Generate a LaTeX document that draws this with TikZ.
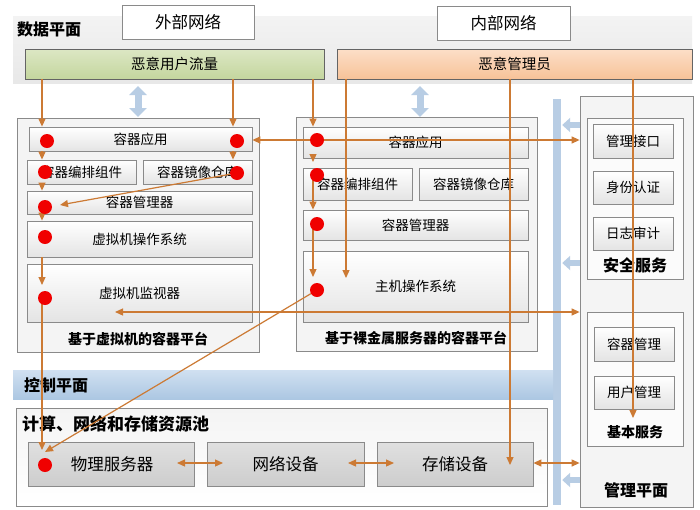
\documentclass[tikz,border=0pt]{standalone}
\usepackage{fontspec}
\setmainfont{Noto Sans CJK SC}
\usetikzlibrary{arrows.meta}

\definecolor{edge}{RGB}{138,138,138}
\definecolor{darkedge}{RGB}{100,100,100}
\definecolor{flowc}{RGB}{204,122,52}
\definecolor{dotred}{RGB}{240,0,0}
\definecolor{ice}{RGB}{184,205,228}
\definecolor{iceTop}{RGB}{208,224,241}
\definecolor{iceBot}{RGB}{172,199,226}
\definecolor{bandTop}{RGB}{243,243,243}
\definecolor{bandBot}{RGB}{232,232,232}
\definecolor{cellBot}{RGB}{228,228,228}
\definecolor{frameFill}{RGB}{244,244,244}
\definecolor{resTop}{RGB}{224,224,224}
\definecolor{resBot}{RGB}{205,205,205}
\definecolor{userTop}{RGB}{220,231,196}
\definecolor{userBot}{RGB}{196,214,158}
\definecolor{adminTop}{RGB}{252,223,200}
\definecolor{adminBot}{RGB}{247,194,152}

\newcommand\fsz[1]{\fontsize{#1}{#1}\selectfont}
% rectangle node from its corner coordinates: name, x1, y1, x2, y2, style, text
\newcommand\rbox[7]{\node[#6, minimum width={#4-#2}, minimum height={#5-#3}] (#1) at ({(#2+#4)/2},{(#3+#5)/2}) {#7};}

\pgfdeclarelayer{front}
\pgfsetlayers{main,front}

\begin{document}
\begin{tikzpicture}[x=1pt,y=-1pt,
  band/.style={draw=none, top color=bandTop, bottom color=bandBot, inner sep=0pt},
  netbox/.style={draw=edge, line width=0.8pt, fill=white, font=\fsz{16.5}, inner sep=0pt},
  cell/.style={draw=edge, line width=0.8pt, top color=white, bottom color=cellBot, font=\fsz{13.5}, inner sep=0pt},
  frame/.style={draw=edge, line width=0.8pt, fill=frameFill, inner sep=0pt},
  res/.style={draw=edge, line width=0.8pt, top color=resTop, bottom color=resBot, font=\fsz{16.5}, inner sep=0pt},
  actor/.style={draw=darkedge, line width=0.8pt, font=\fsz{14.5}, inner sep=0pt},
  title/.style={font=\bfseries\fsz{16}, inner sep=0pt},
  subtitle/.style={font=\bfseries\fsz{14}, inner sep=0pt},
  dot/.style={circle, fill=dotred, minimum size=14pt, inner sep=0pt},
  flow/.style={draw=flowc, line width=1.2pt, -{Triangle[length=8pt,width=7pt]}},
  flow2/.style={draw=flowc, line width=1.2pt, {Triangle[length=8pt,width=7pt]}-{Triangle[length=8pt,width=7pt]}},
  iceflow/.style={draw=ice, line width=6pt, -{Triangle[length=8pt,width=14pt]}},
  icepair/.style={draw=ice, line width=7pt, {Triangle[length=9pt,width=17pt]}-{Triangle[length=9pt,width=17pt]}}
]
\useasboundingbox (0,0) rectangle (700,509);
\fill[white] (0,0) rectangle (700,509);

% ---------- data plane ----------
\rbox{databand}{13}{16}{692}{83}{band}{}
\node[title, anchor=west] (dataT) at (17,29) {数据平面};
\rbox{ext}{122}{5}{254}{39}{netbox}{外部网络}
\rbox{int}{437}{6}{570}{40}{netbox}{内部网络}
\rbox{usr}{25}{49}{324}{79}{actor, top color=userTop, bottom color=userBot}{恶意用户流量}
\rbox{mal}{337}{49}{692}{79}{actor, top color=adminTop, bottom color=adminBot}{恶意管理员}

% ---------- control plane: bar and band ----------
\rbox{bar}{553}{99}{561}{505}{fill=ice, inner sep=0pt}{}
\rbox{ctrl}{13}{370}{553}{399}{top color=iceTop, bottom color=iceBot, inner sep=0pt}{}
\node[title, anchor=west] (ctrlT) at (24,385) {控制平面};

% ---------- VM based container platform ----------
\rbox{platL}{17}{118}{259}{352}{frame}{}
\node[subtitle] (platLT) at (138,339) {基于虚拟机的容器平台};
\rbox{appL}{29}{127}{252}{151}{cell}{容器应用}
\rbox{orchL}{27}{160}{136}{184}{cell}{容器编排组件}
\rbox{regL}{143}{160}{252}{184}{cell}{容器镜像仓库}
\rbox{mgrL}{27}{191}{252}{214}{cell}{容器管理器}
\rbox{vmosL}{27}{221}{252}{257}{cell}{虚拟机操作系统}
\rbox{hypL}{27}{264}{252}{322}{cell}{虚拟机监视器}

% ---------- bare metal container platform ----------
\rbox{platR}{296}{117}{537}{351}{frame}{}
\node[subtitle] (platRT) at (416,338) {基于裸金属服务器的容器平台};
\rbox{appR}{303}{127}{528}{158}{cell}{容器应用}
\rbox{orchR}{303}{168}{412}{200}{cell}{容器编排组件}
\rbox{regR}{419}{168}{528}{200}{cell}{容器镜像仓库}
\rbox{mgrR}{303}{210}{528}{240}{cell}{容器管理器}
\rbox{hostR}{303}{251}{528}{322}{cell}{主机操作系统}

% ---------- management plane ----------
\rbox{mgmt}{580}{96}{693}{507}{frame}{}
\node[title] (mgmtT) at (636,490) {管理平面};
\rbox{sec}{587}{118}{683}{279}{draw=edge, line width=0.8pt, fill=white!60!frameFill, inner sep=0pt}{}
\node[title] (secT) at (635,265) {安全服务};
\rbox{api}{593}{124}{673}{158}{cell}{管理接口}
\rbox{auth}{593}{171}{673}{204}{cell}{身份认证}
\rbox{audit}{593}{217}{673}{250}{cell}{日志审计}
\rbox{basic}{587}{312}{683}{446}{draw=edge, line width=0.8pt, fill=white!60!frameFill, inner sep=0pt}{}
\node[subtitle] (basicT) at (635,432) {基本服务};
\rbox{cmgr}{594}{327}{674}{361}{cell}{容器管理}
\rbox{umgr}{594}{376}{674}{409}{cell}{用户管理}

% ---------- resource pool ----------
\rbox{pool}{16}{408}{547}{506}{draw=edge, line width=0.8pt, top color=frameFill, bottom color=white, inner sep=0pt}{}
\node[font=\bfseries\fsz{17}, inner sep=0pt, anchor=west] (poolT) at (22,424) {计算、网络和存储资源池};
\rbox{phys}{28}{442}{194}{486}{res}{\hspace*{2pt}物理服务器}
\rbox{net}{207}{442}{364}{486}{res}{网络设备}
\rbox{stor}{377}{442}{533}{486}{res}{存储设备}

% ---------- attack points ----------
\begin{pgfonlayer}{front}
\node[dot] (dL1) at (47,141) {};
\node[dot] (dL2) at (237,141) {};
\node[dot] (dL3) at (45,172) {};
\node[dot] (dL4) at (237,173) {};
\node[dot] (dL5) at (45,207) {};
\node[dot] (dL6) at (45,237) {};
\node[dot] (dL7) at (45,298) {};
\node[dot] (dP) at (45,465) {};
\node[dot] (dR1) at (317,140) {};
\node[dot] (dR2) at (317,175) {};
\node[dot] (dR3) at (317,224) {};
\node[dot] (dR4) at (317,290) {};
\end{pgfonlayer}

% ---------- columns, rows and free ends ----------
\coordinate (xa) at (42,0);
\coordinate (xb) at (233,0);
\coordinate (xc) at (313,0);
\coordinate (xd) at (346,0);
\coordinate (xe) at (510,0);
\coordinate (xf) at (633,0);
\coordinate (ya) at (0,140);
\coordinate (yb) at (0,312);
\coordinate (yc) at (0,463);
\coordinate (hypIn) at (42,285);
\coordinate (physIn) at (42,450);
\coordinate (physIn2) at (45,452);
\coordinate (mgrLIn) at (60,205);
\coordinate (orchRIn) at (313,162);
\coordinate (hostIn) at (313,277);
\coordinate (hostIn2) at (346,278);
\coordinate (storIn) at (510,465);
\coordinate (basicIn) at (633,418);
\coordinate (hypOut) at (115,312);
\coordinate (physOut) at (177,463);
\coordinate (netIn) at (223,463);
\coordinate (netOut) at (348,463);
\coordinate (storIn2) at (394,463);
\coordinate (upL) at (138,86);
\coordinate (dnL) at (138,117);
\coordinate (upR) at (420,86);
\coordinate (dnR) at (420,117);

% ---------- plane interactions ----------
\draw[icepair] (upL) -- (dnL);
\draw[icepair] (upR) -- (dnR);
\foreach \r/\n in {125/a, 263/b, 480/c}{
  \coordinate (q\n) at (0,\r);
  \draw[iceflow] (mgmt.west |- q\n) -- ([xshift=1pt]bar.east |- q\n);
}

% ---------- attack paths ----------
\draw[flow] (usr.south -| xa) -- (appL.north -| xa);
\draw[flow] (appL.south -| xa) -- (orchL.north -| xa);
\draw[flow] (orchL.south -| xa) -- (mgrL.north -| xa);
\draw[flow] (mgrL.south -| xa) -- (vmosL.north -| xa);
\draw[flow] (vmosL.south -| xa) -- (hypIn);
\draw[flow] (dL7 -| xa) -- (physIn);
\draw[flow] (usr.south -| xb) -- (appL.north -| xb);
\draw[flow] (appL.south -| xb) -- (regL.north -| xb);
\draw[flow] (dL4) -- (mgrLIn);

\draw[flow] (usr.south -| xc) -- (appR.north -| xc);
\draw[flow] (appR.south -| xc) -- (orchRIn);
\draw[flow] (dR2 -| xc) -- (mgrR.north -| xc);
\draw[flow] (dR3 -| xc) -- (hostIn);
\draw[flow] (mal.south -| xd) -- (hostIn2);
\draw[flow] (dR4) -- (physIn2);
\draw[flow] (mal.south -| xe) -- (storIn);
\draw[flow] (mal.south -| xf) -- (basicIn);

\draw[flow2] (appL.east |- ya) -- (mgmt.west |- ya);
\draw[flow2] (hypOut) -- (mgmt.west |- yb);
\draw[flow2] (physOut) -- (netIn);
\draw[flow2] (netOut) -- (storIn2);
\draw[flow2] (stor.east |- yc) -- (mgmt.west |- yc);
\end{tikzpicture}
\end{document}
